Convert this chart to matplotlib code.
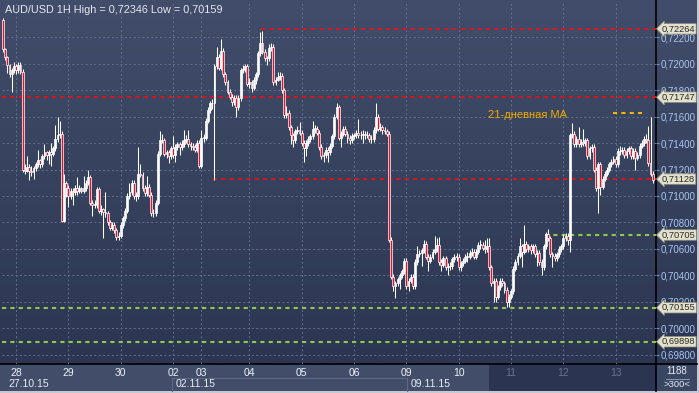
import numpy as np
import matplotlib as mpl
mpl.use('Agg')
import matplotlib.pyplot as plt
from matplotlib.patches import Rectangle
from matplotlib.colors import LinearSegmentedColormap

plt.rcParams['font.family'] = ['Liberation Sans', 'DejaVu Sans']

# AUD/USD hourly candles, prices in pips (1e-4); open of each bar = previous close
first_open = 7233
closes = [
    7211, 7205, 7199, 7192, 7195, 7198, 7195, 7199, 7194, 7120,
    7119, 7122, 7119, 7118, 7121, 7124, 7127, 7124, 7130, 7133,
    7131, 7133, 7132, 7136, 7143, 7146, 7147, 7081, 7110, 7106,
    7100, 7104, 7103, 7106, 7104, 7106, 7104, 7106, 7110, 7114,
    7095, 7093, 7094, 7105, 7089, 7090, 7088, 7087, 7080, 7076,
    7078, 7074, 7069, 7070, 7078, 7083, 7089, 7100, 7103, 7110,
    7100, 7100, 7117, 7116, 7106, 7102, 7107, 7101, 7087, 7087,
    7095, 7132, 7142, 7142, 7132, 7133, 7130, 7136, 7131, 7137,
    7139, 7137, 7139, 7142, 7143, 7139, 7138, 7137, 7135, 7140,
    7123, 7144, 7144, 7157, 7165, 7170, 7170, 7198, 7205, 7197,
    7210, 7192, 7186, 7179, 7175, 7171, 7174, 7167, 7174, 7195,
    7196, 7198, 7185, 7186, 7182, 7188, 7192, 7208, 7216, 7209,
    7204, 7204, 7212, 7213, 7186, 7188, 7190, 7191, 7180, 7161,
    7163, 7152, 7146, 7142, 7149, 7150, 7148, 7140, 7136, 7140,
    7143, 7145, 7151, 7151, 7148, 7137, 7130, 7131, 7135, 7133,
    7138, 7145, 7160, 7167, 7144, 7147, 7151, 7147, 7144, 7142,
    7145, 7146, 7148, 7146, 7146, 7147, 7146, 7146, 7143, 7143,
    7150, 7160, 7151, 7152, 7150, 7149, 7147, 7067, 7039, 7032,
    7034, 7037, 7040, 7043, 7051, 7032, 7036, 7039, 7032, 7050,
    7056, 7057, 7059, 7064, 7054, 7051, 7054, 7058, 7060, 7063,
    7050, 7048, 7053, 7046, 7047, 7047, 7052, 7054, 7054, 7046,
    7049, 7051, 7054, 7054, 7057, 7058, 7054, 7058, 7063, 7063,
    7061, 7060, 7062, 7046, 7034, 7036, 7024, 7031, 7036, 7034,
    7029, 7020, 7024, 7028, 7045, 7050, 7055, 7062, 7058, 7064,
    7060, 7062, 7059, 7062, 7056, 7057, 7050, 7046, 7062, 7071,
    7068, 7056, 7055, 7053, 7056, 7060, 7062, 7068, 7070, 7067,
    7146, 7147, 7139, 7143, 7139, 7141, 7140, 7142, 7130, 7136,
    7137, 7120, 7106, 7124, 7107, 7113, 7117, 7120, 7124, 7126,
    7128, 7124, 7134, 7134, 7135, 7131, 7134, 7136, 7130, 7134,
    7129, 7131, 7138, 7140, 7143, 7142, 7125, 7117, 7112,
]
highs = [
    7234.6, 7212, 7206, 7200, 7197, 7201, 7200, 7201, 7201, 7196,
    7124, 7130, 7124, 7123, 7123, 7126, 7135, 7128, 7132, 7139,
    7134, 7135, 7140, 7138, 7154, 7160, 7157, 7149, 7117, 7111,
    7108, 7106, 7106, 7108, 7114, 7108, 7107, 7115, 7112, 7120,
    7116, 7097, 7097, 7107, 7107, 7093, 7091, 7103, 7089, 7082,
    7080, 7080, 7076, 7073, 7080, 7085, 7091, 7102, 7110, 7112,
    7112, 7103, 7137, 7124, 7118, 7108, 7115, 7109, 7103, 7090,
    7097, 7134, 7149, 7147, 7144, 7135, 7135, 7138, 7145, 7139,
    7141, 7141, 7142, 7150, 7146, 7150, 7141, 7140, 7139, 7142,
    7142, 7150, 7147, 7159, 7167, 7172, 7173, 7200, 7213, 7207,
    7219, 7212, 7194, 7188, 7181, 7177, 7176, 7176, 7176, 7197,
    7199, 7200, 7200, 7189, 7188, 7190, 7194, 7210, 7224, 7225,
    7211, 7206, 7215, 7216, 7215, 7190, 7194, 7194, 7193, 7182,
    7168, 7165, 7154, 7148, 7151, 7153, 7156, 7150, 7142, 7142,
    7145, 7147, 7157, 7154, 7153, 7150, 7139, 7133, 7137, 7137,
    7140, 7147, 7162, 7170, 7169, 7149, 7153, 7153, 7149, 7146,
    7148, 7148, 7150, 7158, 7149, 7150, 7149, 7149, 7148, 7146,
    7152, 7170, 7162, 7155, 7154, 7152, 7151, 7149, 7069, 7041,
    7036, 7039, 7042, 7045, 7053, 7053, 7038, 7041, 7041, 7052,
    7062, 7059, 7061, 7067, 7066, 7056, 7056, 7060, 7070, 7068,
    7069, 7052, 7055, 7055, 7049, 7050, 7054, 7056, 7057, 7056,
    7051, 7053, 7056, 7058, 7059, 7061, 7060, 7060, 7065, 7067,
    7065, 7067, 7068, 7068, 7048, 7038, 7038, 7033, 7038, 7038,
    7036, 7031, 7026, 7030, 7047, 7052, 7057, 7068, 7064, 7078,
    7066, 7064, 7064, 7064, 7064, 7059, 7059, 7052, 7064, 7073,
    7075, 7070, 7058, 7057, 7058, 7062, 7064, 7071, 7072, 7072,
    7148, 7155, 7149, 7145, 7152, 7143, 7151, 7144, 7144, 7138,
    7139, 7139, 7122, 7126, 7126, 7115, 7119, 7122, 7126, 7128,
    7130, 7130, 7136, 7138, 7137, 7137, 7136, 7138, 7138, 7136,
    7136, 7133, 7140, 7142, 7145, 7147, 7153, 7160, 7119,
]
lows = [
    7209, 7203, 7193, 7190, 7179, 7193, 7192, 7193, 7192, 7118,
    7117, 7118, 7112, 7115, 7113, 7119, 7122, 7121, 7122, 7128,
    7127, 7124, 7123, 7130, 7134, 7141, 7144, 7080, 7080, 7099,
    7092, 7098, 7093, 7101, 7101, 7102, 7102, 7102, 7104, 7108,
    7093, 7085, 7091, 7091, 7087, 7086, 7068, 7084, 7078, 7074,
    7074, 7072, 7067, 7067, 7068, 7076, 7081, 7087, 7098, 7101,
    7098, 7096, 7098, 7114, 7104, 7100, 7100, 7099, 7085, 7084,
    7085, 7093, 7130, 7140, 7130, 7129, 7125, 7128, 7129, 7126,
    7135, 7131, 7135, 7137, 7140, 7137, 7135, 7135, 7133, 7133,
    7121, 7121, 7141, 7142, 7155, 7163, 7166, 7112, 7196, 7195,
    7195, 7190, 7184, 7177, 7173, 7168, 7169, 7160, 7165, 7172,
    7193, 7194, 7183, 7182, 7179, 7180, 7185, 7190, 7206, 7207,
    7202, 7199, 7202, 7210, 7184, 7184, 7187, 7188, 7178, 7159,
    7159, 7150, 7139, 7137, 7140, 7147, 7146, 7138, 7126, 7130,
    7138, 7141, 7143, 7148, 7146, 7135, 7128, 7126, 7129, 7126,
    7131, 7136, 7143, 7158, 7142, 7137, 7145, 7145, 7140, 7139,
    7140, 7143, 7144, 7144, 7143, 7140, 7143, 7144, 7141, 7140,
    7141, 7148, 7149, 7149, 7147, 7147, 7145, 7065, 7037, 7028,
    7023, 7032, 7030, 7038, 7041, 7030, 7028, 7034, 7030, 7030,
    7048, 7054, 7047, 7057, 7052, 7043, 7049, 7052, 7056, 7058,
    7048, 7043, 7046, 7044, 7040, 7044, 7045, 7050, 7051, 7044,
    7043, 7047, 7049, 7050, 7052, 7055, 7052, 7052, 7056, 7060,
    7059, 7057, 7058, 7044, 7032, 7020, 7020, 7022, 7029, 7032,
    7027, 7015.9, 7016, 7022, 7026, 7043, 7048, 7053, 7046, 7056,
    7058, 7058, 7056, 7057, 7054, 7047, 7048, 7040, 7044, 7060,
    7066, 7054, 7046, 7051, 7051, 7054, 7058, 7060, 7066, 7063,
    7058, 7144, 7137, 7137, 7137, 7137, 7138, 7138, 7128, 7128,
    7133, 7118, 7104, 7087, 7101, 7105, 7111, 7115, 7118, 7122,
    7124, 7122, 7122, 7131, 7132, 7129, 7129, 7132, 7128, 7128,
    7120, 7127, 7129, 7136, 7138, 7140, 7123, 7115, 7110,
]

# x axis: day separators (bar index) and their labels
day_pos = [6, 30, 54, 78, 91, 113, 137, 161, 185, 209, 233, 257, 281]
day_labels = ['28', '29', '30', '02', '03', '04', '05', '06', '09', '10', '11', '12', '13']
date_labels = ['27.10.15', '02.11.15', '09.11.15']

# horizontal support / resistance levels
levels = [0.72264, 0.71747, 0.71128, 0.70705, 0.70155, 0.69898]
level_start = [119, 0, 97, 249, 0, 0]
level_kind = ['r', 'r', 'r', 'g', 'g', 'g']
ma_level = 0.7163
ma_from, ma_to = 280, 293
ma_text = '21-дневная MA'
high_value, low_value = 0.72346, 0.70159
price_ticks = [0.698, 0.700, 0.702, 0.704, 0.706, 0.708, 0.710,
               0.712, 0.714, 0.716, 0.718, 0.720, 0.722]

c = np.array(closes) / 10000.0
h = np.array(highs) / 10000.0
l = np.array(lows) / 10000.0
o = np.concatenate([[first_open / 10000.0], c[:-1]])
idx = np.arange(len(c))

W, H = 699, 393
fig = plt.figure(figsize=(W / 100, H / 100), dpi=100)
fig.patch.set_facecolor('#c4c8d0')


def frac(x0, y0, x1, y1):
    return [x0 / W, 1 - y1 / H, (x1 - x0) / W, (y1 - y0) / H]


def price_str(v):
    return f'{v:.5f}'.replace('.', ',')


# background layer in pixel coordinates
bg = fig.add_axes(frac(0, 0, W, H))
bg.set_xlim(0, W)
bg.set_ylim(H, 0)
bg.axis('off')
cmap = LinearSegmentedColormap.from_list('navy', ['#414d6a', '#2c3652'])
bg.imshow(np.linspace(0, 1, 200).reshape(-1, 1), cmap=cmap, aspect='auto',
          extent=(0, 697, 364, 0), zorder=0)
bg.add_patch(Rectangle((0, 364), 656, 27, fc='#414d69', ec='none', zorder=1))
bg.add_patch(Rectangle((489, 364), 167, 27, fc='#2b3551', ec='none', zorder=1))
bg.plot([172, 172, 407], [391, 377.5, 377.5], color='#5c6884', lw=0.8, zorder=2)
bg.plot([407, 407], [377.5, 391], color='#5c6884', lw=0.8, zorder=2)
bg.add_patch(Rectangle((656, 364), 41, 27, fc='#3a4662', ec='none', zorder=1))
bg.plot([0, 697], [364, 364], color='black', lw=1.2, zorder=3)
bg.plot([656, 656], [0, 391], color='black', lw=1.2, zorder=3)
bg.plot([666, 689], [378.5, 378.5], color='#9aa6bf', lw=0.6, zorder=3)
bg.text(677, 371.5, '1188', color='#e8ecf4', fontsize=7, ha='center', va='center')
bg.text(677, 384.5, '>300<', color='#e8ecf4', fontsize=6.8, ha='center', va='center')
bg.text(8, 384, date_labels[0], color='#e8ecf4', fontsize=7.5, va='center')
bg.text(176, 384, date_labels[1], color='#e8ecf4', fontsize=7.5, va='center')
bg.text(411, 384, date_labels[2], color='#e8ecf4', fontsize=7.5, va='center')

# main chart
ax = fig.add_axes(frac(2, 2, 656, 364))
ax.set_facecolor('none')
ax.set_xlim(-0.46, 299.5)
ax.set_ylim(0.697296, 0.724669)
for s in ax.spines.values():
    s.set_visible(False)

ax.set_yticks(price_ticks)
ax.set_xticks(day_pos)
ax.grid(color='#62708f', lw=0.7, ls=(0, (2, 2.5)), zorder=0)
ax.yaxis.tick_right()
ax.yaxis.set_major_formatter(mpl.ticker.FuncFormatter(lambda v, p: price_str(v)))
ax.tick_params(axis='y', length=2, width=0.8, color='#6e92c8', pad=1.5,
               labelsize=7, labelcolor='#a9c6ee')
ax.set_xticklabels(day_labels)
ax.tick_params(axis='x', length=0, pad=3, labelsize=7.5, labelcolor='#eef1f6')
for lab, d in zip(ax.get_xticklabels(), day_pos):
    if d > 230:
        lab.set_color('#66738f')

# level lines with price tags on the right scale
col = {'r': '#d8151f', 'g': '#93c94a'}
for lv, st, k in zip(levels, level_start, level_kind):
    ax.plot([st - 0.5, 299.5], [lv, lv], color=col[k], lw=1.5, ls=(0, (2, 2)), zorder=2)
    ax.text(1.009, lv, price_str(lv), transform=ax.get_yaxis_transform(),
            ha='left', va='center', fontsize=6.7, color='#2a2a2a', zorder=10, clip_on=False,
            bbox=dict(boxstyle='larrow,pad=0.08', fc='#e3e1cc', ec='#8e8d7c', lw=0.5))

ax.plot([ma_from, ma_to], [ma_level, ma_level], color='#f2b600', lw=1.5, ls=(0, (2, 2)), zorder=2)
ax.text(222.5, ma_level - 0.00018, ma_text, color='#f0ad00', fontsize=8, va='center', ha='left')

# candles
up = c >= o
ax.vlines(idx, l, h, color='white', lw=0.75, zorder=3)
ax.bar(idx, np.maximum(np.abs(c - o), 0.00004), bottom=np.minimum(o, c), width=0.85,
       color=np.where(up, 'white', '#e3132c'), edgecolor='white', linewidth=0.5, zorder=4)

ax.text(0.004, 0.992, f'AUD/USD 1H High = {price_str(high_value)} Low = {price_str(low_value)}',
        transform=ax.transAxes, va='top', ha='left', fontsize=7.8, color='#e4e8f0')

fig.savefig('out.png', dpi=100, facecolor=fig.get_facecolor())
